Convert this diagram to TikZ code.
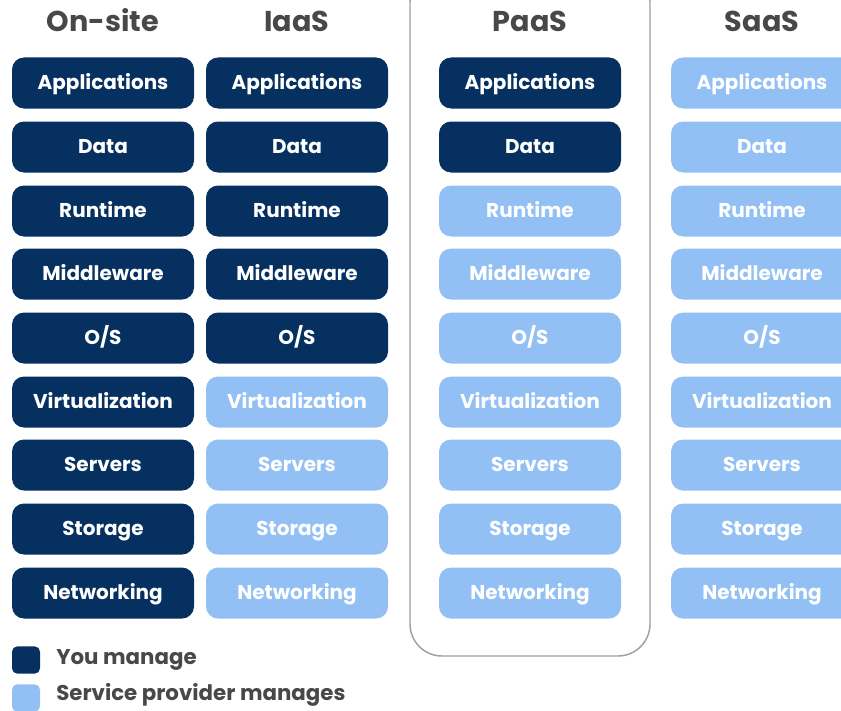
\documentclass[tikz,border=0pt]{standalone}
\usepackage{fontspec}
\setmainfont{Poppins}
\usepackage{tikz}

\definecolor{navy}{RGB}{5,48,95}
\definecolor{skyblue}{RGB}{146,192,245}
\definecolor{headgray}{RGB}{72,72,72}

\begin{document}
\begin{tikzpicture}[x=0.75pt,y=0.75pt,yscale=-1,xscale=1,
  you/.style={fill=navy,rounded corners=9pt,minimum width=136.5pt,minimum height=38.25pt,inner sep=0pt,text=white,text height=0.95em,text depth=0pt,font=\bfseries\fontsize{15}{18}\selectfont},
  provider/.style={you,fill=skyblue},
  head/.style={text=headgray,font=\bfseries\fontsize{21.5}{25}\selectfont,inner sep=0pt,text height=0.7em,text depth=0pt},
  legend/.style={text=headgray,font=\bfseries\fontsize{16}{19}\selectfont,inner sep=0pt,anchor=west,text height=0.7em,text depth=0pt}]
\useasboundingbox (0,0) rectangle (841,710);

%Rounded Rect: PaaS frame
\draw [color={rgb, 255:red, 160; green, 160; blue, 160 }, line width=1.1pt, rounded corners=24pt] (410,-30) rectangle (650,656) ;

% Text Node: headers
\node [head] (hOn) at (103,26.5) {On-site};
\node [head] (hIaas) at (297,26.5) {IaaS};
\node [head] (hPaas) at (530,26.5) {PaaS};
\node [head] (hSaas) at (762,26.5) {SaaS};

% On-site column
\node [you] (o1) at (103,83) {Applications};
\node [you] (o2) at (103,147) {Data};
\node [you] (o3) at (103,211) {Runtime};
\node [you] (o4) at (103,274) {Middleware};
\node [you] (o5) at (103,338) {O/S};
\node [you] (o6) at (103,402) {Virtualization};
\node [you] (o7) at (103,465) {Servers};
\node [you] (o8) at (103,529) {Storage};
\node [you] (o9) at (103,593) {Networking};

% IaaS column
\node [you] (i1) at (297,83) {Applications};
\node [you] (i2) at (297,147) {Data};
\node [you] (i3) at (297,211) {Runtime};
\node [you] (i4) at (297,274) {Middleware};
\node [you] (i5) at (297,338) {O/S};
\node [provider] (i6) at (297,402) {Virtualization};
\node [provider] (i7) at (297,465) {Servers};
\node [provider] (i8) at (297,529) {Storage};
\node [provider] (i9) at (297,593) {Networking};

% PaaS column
\node [you] (p1) at (530,83) {Applications};
\node [you] (p2) at (530,147) {Data};
\node [provider] (p3) at (530,211) {Runtime};
\node [provider] (p4) at (530,274) {Middleware};
\node [provider] (p5) at (530,338) {O/S};
\node [provider] (p6) at (530,402) {Virtualization};
\node [provider] (p7) at (530,465) {Servers};
\node [provider] (p8) at (530,529) {Storage};
\node [provider] (p9) at (530,593) {Networking};

% SaaS column
\node [provider] (s1) at (762,83) {Applications};
\node [provider] (s2) at (762,147) {Data};
\node [provider] (s3) at (762,211) {Runtime};
\node [provider] (s4) at (762,274) {Middleware};
\node [provider] (s5) at (762,338) {O/S};
\node [provider] (s6) at (762,402) {Virtualization};
\node [provider] (s7) at (762,465) {Servers};
\node [provider] (s8) at (762,529) {Storage};
\node [provider] (s9) at (762,593) {Networking};

% Legend
\node [you, minimum width=21pt, minimum height=20.5pt, rounded corners=4pt] (keyYou) at (26,660) {};
\node [provider, minimum width=21pt, minimum height=20.5pt, rounded corners=4pt] (keyProv) at (26,698) {};
\node [legend] (txtYou) at (56,660) {You manage};
\node [legend] (txtProv) at (56,696) {Service provider manages};

\end{tikzpicture}
\end{document}
